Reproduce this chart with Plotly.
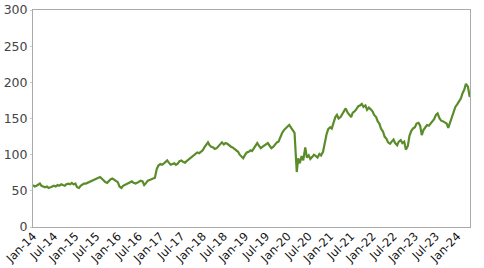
import plotly.graph_objects as go

# Semi-monthly readings (1st and 15th of each month), Jan-2014 .. Apr-2024
years = list(range(2014, 2025))
values_2014 = [58, 56, 57, 59, 60, 57, 56, 55, 56, 54, 55, 56, 57, 56, 58, 57, 59, 58, 57, 59, 60, 59, 61, 59]
values_2015 = [60, 55, 54, 57, 59, 60, 60, 61, 63, 64, 65, 66, 67, 68, 69, 67, 64, 62, 61, 64, 66, 67, 65, 63]
values_2016 = [62, 56, 54, 57, 58, 60, 61, 62, 63, 61, 60, 61, 62, 64, 63, 58, 61, 64, 65, 66, 67, 68, 80, 85]
values_2017 = [87, 86, 88, 90, 92, 89, 86, 87, 88, 86, 88, 91, 92, 90, 89, 91, 93, 95, 97, 99, 101, 103, 102, 104]
values_2018 = [106, 110, 114, 117, 113, 111, 110, 108, 109, 112, 115, 117, 114, 116, 115, 113, 111, 110, 108, 105, 104, 100, 97, 95]
values_2019 = [100, 103, 104, 106, 105, 108, 112, 116, 112, 109, 111, 113, 115, 116, 112, 109, 111, 114, 117, 118, 125, 130, 134, 137]
values_2020 = [139, 141, 137, 134, 130, 90, 95, 88, 98, 92, 110, 96, 99, 94, 97, 100, 98, 96, 101, 99, 104, 118, 128, 135]
values_2021 = [138, 136, 145, 152, 155, 150, 152, 156, 160, 164, 158, 155, 152, 158, 160, 163, 167, 168, 170, 166, 168, 162, 165, 163]
values_2022 = [160, 155, 152, 146, 143, 136, 132, 125, 122, 117, 115, 118, 121, 116, 113, 118, 120, 116, 118, 107, 112, 126, 133, 136]
values_2023 = [138, 143, 144, 140, 127, 134, 139, 141, 140, 143, 147, 149, 155, 157, 150, 147, 146, 145, 143, 137, 146, 152, 160, 166]
values_2024 = [170, 173, 178, 185, 190, 198, 194, 181]
series = [values_2014, values_2015, values_2016, values_2017, values_2018, values_2019,
          values_2020, values_2021, values_2022, values_2023, values_2024]

# extra readings around the March-2020 crash and the last close
extra_dates = ["2020-03-20"]
extra_values = [76]
last_date = "2024-04-19"
last_value = 180

dates, vals = [], []
for y, vs in zip(years, series):
    for i, v in enumerate(vs):
        m = i // 2 + 1
        d = 1 if i % 2 == 0 else 15
        dates.append(f"{y}-{m:02d}-{d:02d}")
        vals.append(v)
for d, v in zip(extra_dates, extra_values):
    dates.append(d)
    vals.append(v)
dates.append(last_date)
vals.append(last_value)
pairs = sorted(zip(dates, vals))
dates = [p[0] for p in pairs]
vals = [p[1] for p in pairs]

fig = go.Figure(go.Scatter(x=dates, y=vals, mode="lines",
                           line=dict(color="#5a8c2a", width=2.2)))

fig.update_layout(
    width=484, height=268,
    margin=dict(l=33, r=14, t=10, b=41),
    paper_bgcolor="white", plot_bgcolor="white",
    showlegend=False,
    font=dict(family="DejaVu Sans"),
)
fig.update_xaxes(
    range=["2014-01-01", "2024-04-19"],
    tick0="2014-01-01", dtick="M6", tickformat="%b-%y",
    tickangle=-45, tickfont=dict(size=11.5, color="#111"),
    showgrid=False, zeroline=False, automargin=False,
    showline=True, linecolor="#aaaaaa", linewidth=1, mirror=True,
    ticks="", ticklabelstandoff=-3,
)
fig.update_yaxes(
    range=[0, 300], tick0=0, dtick=50,
    tickfont=dict(size=12.5, color="#444"),
    showgrid=False, zeroline=False, automargin=False,
    showline=True, linecolor="#aaaaaa", linewidth=1, mirror=True,
    ticks="outside", ticklen=2, tickcolor="#cccccc",
)

fig.write_html("out.html")
